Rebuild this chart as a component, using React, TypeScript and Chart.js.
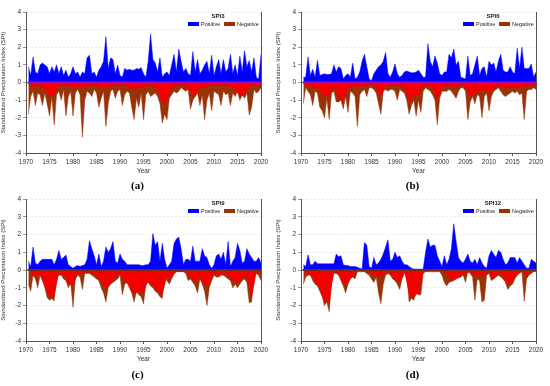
import React, { useEffect, useRef } from "react";
import { Chart, registerables } from "chart.js";
Chart.register(...registerables);

// Half-year sample grid: 1970.5, 1971.0, ... 2020.0 (100 samples)
const HALF_START = 1970.5;
// Yearly grid for the smoother red envelope: 1971 ... 2020 (50 samples)
const YEAR_START = 1971;

const YEAR_TICKS = [1970, 1975, 1980, 1985, 1990, 1995, 2000, 2005, 2010, 2015, 2020];
const SPI_TICKS = [-4, -3, -2, -1, 0, 1, 2, 3, 4];
const LEGEND_LABELS = ["Positive", "Negative"];

// ---------- SPI3 ----------
const SPI3_POS = [
  0.9, 0.4, 1.45, 0.6, 0.5, 1.0, 1.1, 1.0, 0.9, 0.5,
  0.9, 0.6, 1.0, 0.5, 0.9, 0.4, 0.7, 0.3, 0.5, 0.9,
  0.5, 0.6, 0.3, 0.6, 0.5, 1.4, 1.55, 0.5, 0.6, 0.3,
  0.7, 0.9, 1.2, 2.6, 0.8, 1.4, 1.3, 0.5, 1.0, 0.4,
  0.3, 0.8, 0.7, 0.75, 0.7, 0.7, 0.8, 0.75, 0.85, 0.5,
  0.3, 1.2, 2.75, 1.3, 1.1, 0.6, 1.4, 0.3, 0.5, 0.6,
  0.4, 1.0, 1.6, 0.6, 1.9, 1.2, 0.6, 0.8, 0.5, 0.4,
  1.75, 0.6, 1.3, 0.5, 0.7, 1.0, 1.2, 0.5, 1.55, 0.4,
  0.9, 1.3, 0.5, 1.3, 0.6, 0.8, 1.6, 0.5, 1.0, 0.4,
  1.5, 0.6, 1.8, 0.9, 1.25, 0.6, 1.4, 0.3, 0.2, 1.6,
];
const SPI3_NEG = [
  -1.8, -0.8, -0.5, -1.3, -0.6, -0.7, -1.3, -0.6, -1.2, -1.9,
  -0.8, -2.4, -0.7, -0.5, -1.0, -0.4, -1.9, -0.8, -0.5, -1.9,
  -0.6, -0.4, -0.7, -3.1, -1.0, -0.5, -0.6, -0.8, -0.4, -0.6,
  -1.4, -0.9, -0.5, -2.5, -1.2, -0.5, -0.4, -0.9, -0.5, -0.4,
  -1.3, -0.7, -0.5, -0.6, -1.4, -2.1, -0.9, -1.4, -0.6, -2.1,
  -0.7, -0.5, -0.8, -0.7, -0.6, -0.8, -1.2, -2.3, -1.8, -2.1,
  -0.9, -0.7, -0.5, -0.6, -0.5, -0.3, -0.4, -0.5, -0.4, -1.5,
  -1.0, -0.8, -0.6, -1.3, -0.7, -2.1, -1.0, -0.6, -1.6, -0.5,
  -0.6, -0.7, -1.3, -0.5, -0.7, -0.6, -1.3, -0.6, -0.8, -0.5,
  -1.0, -0.7, -0.9, -0.6, -1.85, -1.4, -0.4, -0.6, -0.5, -0.3,
];
const SPI3_RED = [
  -0.3, -0.2, -0.2, -0.4, -0.8, -0.7, -0.2, -0.2, -0.2, -0.3,
  -0.2, -0.3, -0.2, -0.2, -0.2, -0.3, -0.3, -0.2, -0.2, -0.2,
  -0.2, -0.3, -0.4, -0.3, -0.3, -0.2, -0.2, -0.4, -1.2, -1.0,
  -0.3, -0.2, -0.2, -0.2, -0.5, -0.8, -0.3, -0.3, -0.2, -0.2,
  -0.2, -0.2, -0.2, -0.3, -0.6, -0.8, -0.4, -0.2, -0.2, -0.1,
];

// ---------- SPI6 ----------
const SPI6_POS = [
  0.3, 0.3, 1.45, 0.4, 0.75, 0.3, 1.25, 0.4, 0.45, 0.5,
  0.45, 0.45, 0.5, 1.0, 0.6, 0.9, 0.8, 0.2, 0.4, 0.5,
  0.3, 1.1, 0.2, 0.3, 0.6, 1.2, 1.6, 0.9, 0.2, 0.1,
  0.5, 0.7, 0.9, 1.0, 1.2, 1.7, 0.5, 0.3, 0.6, 1.05,
  0.5, 0.3, 0.4, 0.6, 0.65, 0.6, 0.55, 0.55, 0.6, 0.7,
  0.5, 0.3, 0.3, 2.2, 1.2, 0.9, 1.5, 1.1, 0.5, 0.4,
  0.6, 0.6, 1.6, 1.4, 1.9, 1.0, 1.2, 0.3, 0.25, 0.2,
  1.5, 0.4, 0.5, 1.0, 1.5, 0.4, 0.8, 0.9, 0.3, 1.2,
  1.0, 1.1, 0.6, 1.2, 1.6, 0.7, 0.6, 0.6, 0.9, 0.6,
  0.5, 1.95, 0.8, 2.0, 0.8, 0.8, 0.8, 1.05, 0.3, 0.6,
];
const SPI6_NEG = [
  -1.2, -0.3, -0.5, -0.7, -1.3, -0.5, -0.6, -1.4, -1.6, -2.0,
  -0.9, -2.1, -0.6, -0.5, -1.1, -1.1, -1.0, -1.5, -0.8, -1.7,
  -0.5, -0.6, -0.8, -2.5, -0.7, -0.5, -0.4, -0.8, -0.3, -0.3,
  -0.4, -0.6, -1.2, -1.8, -0.5, -0.4, -0.5, -0.4, -0.4, -0.5,
  -1.0, -0.4, -0.5, -0.6, -1.0, -1.8, -1.3, -1.0, -1.9, -1.0,
  -1.7, -0.5, -0.3, -0.4, -0.5, -0.7, -1.0, -2.4, -0.9, -0.5,
  -0.5, -0.5, -0.4, -0.5, -0.7, -0.9, -0.5, -0.3, -0.3, -0.5,
  -2.1, -1.1, -0.8, -1.2, -0.7, -0.8, -2.0, -0.8, -0.6, -1.6,
  -0.8, -0.5, -0.4, -0.3, -0.5, -0.7, -0.8, -0.7, -0.6, -0.5,
  -0.6, -0.5, -0.7, -0.6, -2.1, -0.5, -0.4, -0.4, -0.3, -0.4,
];
const SPI6_RED = [
  -0.3, -0.2, -0.3, -0.5, -0.8, -0.8, -0.2, -1.0, -0.9, -0.4,
  -0.2, -0.3, -0.2, -0.2, -0.1, -0.3, -0.8, -0.2, -0.2, -0.2,
  -0.2, -0.3, -1.1, -0.8, -0.7, -0.2, -0.2, -0.3, -1.0, -0.3,
  -0.2, -0.2, -0.3, -0.1, -0.3, -0.8, -0.6, -0.5, -0.4, -0.6,
  -0.3, -0.2, -0.3, -0.3, -0.3, -0.3, -0.3, -0.2, -0.2, -0.1,
];

// ---------- SPI9 ----------
const SPI9_POS = [
  0.5, 0.2, 1.3, 0.4, 0.3, 0.5, 0.6, 0.6, 0.6, 0.6,
  0.6, 0.3, 0.6, 1.1, 0.6, 0.7, 0.85, 0.3, 0.2, 0.1,
  0.2, 0.25, 0.2, 0.25, 0.3, 0.6, 1.65, 1.2, 0.8, 0.3,
  0.9, 0.2, 0.5, 1.3, 1.0, 1.2, 1.6, 0.5, 0.4, 0.9,
  0.6, 0.5, 0.3, 0.3, 0.3, 0.3, 0.3, 0.3, 0.25, 0.25,
  0.3, 0.3, 0.5, 2.05, 1.4, 1.6, 0.5, 1.5, 0.6, 0.1,
  0.3, 0.5, 1.5, 1.75, 1.85, 1.2, 0.3, 0.6, 0.6, 0.5,
  1.35, 0.5, 0.5, 0.5, 1.2, 0.8, 0.7, 0.3, 0.1, 0.3,
  0.8, 0.9, 0.6, 1.0, 0.3, 1.6, 0.2, 0.5, 0.7, 1.5,
  1.1, 0.4, 0.5, 1.2, 0.9, 0.7, 0.5, 0.5, 0.7, 0.4,
];
const SPI9_NEG = [
  -0.8, -1.2, -0.3, -0.5, -1.0, -0.3, -0.6, -1.0, -1.55, -1.7,
  -1.6, -1.75, -0.4, -0.3, -0.3, -0.5, -0.6, -1.0, -0.7, -2.1,
  -0.5, -0.3, -0.4, -1.1, -0.2, -0.2, -0.2, -0.3, -0.4, -0.5,
  -0.6, -1.0, -1.3, -1.8, -1.0, -0.8, -0.7, -0.6, -0.5, -0.3,
  -1.4, -0.8, -0.7, -1.0, -1.3, -1.8, -1.2, -1.4, -1.5, -1.9,
  -0.8, -0.7, -0.9, -1.0, -1.2, -1.3, -1.5, -1.6, -0.2, -0.6,
  -0.8, -0.5, -0.2, -0.1, -0.1, -0.1, -0.1, -0.2, -0.6, -0.5,
  -0.7, -0.9, -1.3, -0.5, -0.8, -1.2, -2.0, -1.0, -0.6, -0.3,
  -0.4, -0.4, -0.3, -0.3, -0.4, -0.5, -0.6, -1.0, -0.8, -1.0,
  -0.8, -0.6, -0.5, -0.7, -1.85, -1.8, -0.3, -0.2, -0.3, -0.6,
];
const SPI9_RED = [
  -0.4, -0.3, -0.3, -0.9, -1.5, -1.5, -0.2, -0.3, -0.8, -0.9,
  -0.2, -0.2, -0.1, -0.2, -0.3, -0.7, -1.0, -0.7, -0.4, -0.2,
  -0.6, -0.9, -1.4, -1.2, -1.3, -0.6, -0.9, -1.2, -1.4, -0.4,
  -0.4, -0.1, -0.1, -0.1, -0.4, -0.7, -0.4, -0.9, -0.8, -0.2,
  -0.3, -0.2, -0.3, -0.6, -0.7, -0.4, -0.4, -1.6, -0.2, -0.1,
];

// ---------- SPI12 ----------
const SPI12_POS = [
  0.3, 0.2, 0.85, 0.3, 0.3, 0.5, 0.35, 0.35, 0.35, 0.35,
  0.35, 0.35, 0.35, 0.35, 0.9, 0.75, 0.8, 0.3, 0.25, 0.25,
  0.2, 0.2, 0.2, 0.15, 0.1, 0.05, 1.55, 1.4, 0.2, 0.1,
  0.7, 0.3, 0.4, 0.6, 0.9, 1.3, 1.7, 0.5, 0.6, 1.0,
  0.7, 0.8, 0.5, 0.3, 0.3, 0.2, 0.1, 0.05, 0.05, 0.05,
  0.05, 0.05, 1.0, 1.75, 1.3, 1.4, 1.4, 0.8, 0.5, 0.2,
  0.8, 0.3, 0.6, 1.2, 2.6, 1.6, 0.7, 0.5, 0.4, 0.6,
  0.9, 0.5, 0.4, 0.6, 0.3, 0.7, 0.4, 0.2, 0.1, 0.8,
  1.1, 0.9, 0.7, 1.1, 1.0, 0.6, 0.3, 0.4, 0.7, 0.7,
  0.7, 0.4, 0.7, 0.5, 0.3, 0.1, 0.1, 0.6, 0.5, 0.4,
];
const SPI12_NEG = [
  -0.8, -0.4, -0.3, -0.3, -0.6, -0.8, -0.9, -1.2, -1.5, -2.0,
  -1.8, -2.35, -0.8, -0.2, -0.2, -0.3, -0.6, -0.9, -1.3, -0.8,
  -0.5, -0.4, -0.5, -0.1, -0.1, -0.1, -0.1, -0.2, -0.3, -0.5,
  -0.7, -0.4, -1.3, -1.9, -0.8, -0.3, -0.2, -0.3, -0.5, -0.6,
  -0.8, -1.1, -0.5, -0.2, -0.1, -1.8, -1.6, -1.7, -1.3, -1.4,
  -1.4, -0.2, -0.1, -0.1, -0.1, -0.1, -0.1, -0.1, -0.1, -0.3,
  -0.7, -0.9, -0.7, -0.65, -0.6, -0.5, -0.45, -0.4, -0.3, -0.7,
  -0.1, -0.2, -0.4, -1.7, -0.5, -0.6, -1.8, -1.7, -0.3, -0.2,
  -0.6, -0.5, -0.4, -0.3, -0.4, -0.5, -0.7, -1.1, -0.9, -0.8,
  -0.5, -0.3, -0.2, -0.1, -1.75, -0.5, -0.3, -0.2, -0.1, -0.1,
];
const SPI12_RED = [
  -0.3, -0.2, -0.6, -1.1, -1.8, -1.8, -0.1, -0.2, -0.8, -0.7,
  -0.3, -0.05, -0.05, -0.1, -0.2, -0.3, -0.4, -0.1, -0.2, -0.5,
  -0.7, -0.1, -1.4, -1.5, -1.3, -0.1, -0.05, -0.05, -0.05, -0.1,
  -0.2, -0.6, -0.5, -0.3, -0.2, -0.1, -0.3, -0.3, -0.3, -0.1,
  -0.5, -0.2, -0.3, -0.8, -0.6, -0.2, -0.1, -0.3, -0.1, -0.05,
];

const BLUE = "#0000ff";
const BROWN = "#9a3208";
const RED = "#f20000";

type Panel = {
  title: string;
  caption: string;
  pos: number[];
  neg: number[];
  red: number[];
  zeroColor: string;
  left: number;
  top: number;
  padTop: number;
  padBottom: number;
  captionY: number;
};

const PANELS: Panel[] = [
  { title: "SPI3", caption: "(a)", pos: SPI3_POS, neg: SPI3_NEG, red: SPI3_RED, zeroColor: "#b000c0", left: 0, top: 0, padTop: 12, padBottom: 18, captionY: 179 },
  { title: "SPI6", caption: "(b)", pos: SPI6_POS, neg: SPI6_NEG, red: SPI6_RED, zeroColor: "#b000c0", left: 275, top: 0, padTop: 12, padBottom: 18, captionY: 179 },
  { title: "SPI9", caption: "(c)", pos: SPI9_POS, neg: SPI9_NEG, red: SPI9_RED, zeroColor: "#7a2a08", left: 0, top: 193, padTop: 6, padBottom: 23, captionY: 175 },
  { title: "SPI12", caption: "(d)", pos: SPI12_POS, neg: SPI12_NEG, red: SPI12_RED, zeroColor: "#7a2a08", left: 275, top: 193, padTop: 6, padBottom: 23, captionY: 175 },
];

const halfPts = (vals: number[]) => vals.map((v, i) => ({ x: HALF_START + i * 0.5, y: v }));
const yearPts = (vals: number[]) => vals.map((v, i) => ({ x: YEAR_START + i, y: v }));

const FONT_FAMILY = "Arial, 'Liberation Sans', sans-serif";

// right frame line + legend in top-right corner of the plot
const decor = {
  id: "decor",
  afterDatasetsDraw(chart: any, _args: any, opts: any) {
    const { ctx, chartArea } = chart;
    ctx.save();
    ctx.strokeStyle = "#555";
    ctx.lineWidth = 1;
    ctx.beginPath();
    ctx.moveTo(chartArea.right + 0.5, chartArea.top);
    ctx.lineTo(chartArea.right + 0.5, chartArea.bottom);
    ctx.stroke();

    const r = chartArea.right;
    const t = chartArea.top;
    ctx.fillStyle = "#222";
    ctx.textAlign = "center";
    ctx.textBaseline = "middle";
    ctx.font = `bold 6px ${FONT_FAMILY}`;
    ctx.fillText(opts.title, r - 43, t + 4.5);
    ctx.font = `5.5px ${FONT_FAMILY}`;
    ctx.textAlign = "left";
    const rowY = t + 12;
    ctx.fillStyle = BLUE;
    ctx.fillRect(r - 73, rowY - 2, 11, 4);
    ctx.fillStyle = "#222";
    ctx.fillText(LEGEND_LABELS[0], r - 60, rowY);
    ctx.fillStyle = BROWN;
    ctx.fillRect(r - 37, rowY - 2, 11, 4);
    ctx.fillStyle = "#222";
    ctx.fillText(LEGEND_LABELS[1], r - 24, rowY);
    ctx.restore();
  },
};

function PanelChart({ p }: { p: Panel }) {
  const ref = useRef<HTMLCanvasElement | null>(null);
  useEffect(() => {
    if (!ref.current) return;
    const font = { family: FONT_FAMILY, size: 6.5 };
    const chart = new Chart(ref.current, {
      type: "line",
      data: {
        datasets: [
          {
            label: "zero",
            data: [{ x: 1970.3, y: 0 }, { x: 2020, y: 0 }],
            borderColor: p.zeroColor,
            borderWidth: 2,
            pointRadius: 0,
            fill: false,
            order: 0,
          },
          {
            label: "red",
            data: yearPts(p.red),
            borderColor: RED,
            backgroundColor: RED,
            borderWidth: 0,
            pointRadius: 0,
            fill: "origin",
            order: 1,
          },
          {
            label: LEGEND_LABELS[1],
            data: halfPts(p.neg),
            borderColor: BROWN,
            backgroundColor: BROWN,
            borderWidth: 0.5,
            pointRadius: 0,
            fill: "origin",
            order: 2,
          },
          {
            label: LEGEND_LABELS[0],
            data: halfPts(p.pos),
            borderColor: BLUE,
            backgroundColor: BLUE,
            borderWidth: 0.5,
            pointRadius: 0,
            fill: "origin",
            order: 3,
          },
        ],
      } as any,
      options: {
        responsive: false,
        animation: false,
        events: [],
        layout: { padding: { left: 0, right: 14, top: p.padTop, bottom: p.padBottom } },
        elements: { line: { tension: 0 } },
        scales: {
          x: {
            type: "linear",
            min: 1970,
            max: 2020,
            afterBuildTicks: (s: any) => { s.ticks = YEAR_TICKS.map((v) => ({ value: v })); },
            ticks: { callback: (v: any) => String(v), font, color: "#333", maxRotation: 0, autoSkip: false, padding: 2 },
            grid: { drawOnChartArea: false, tickLength: 3, tickColor: "#555" },
            border: { color: "#555", width: 1 },
            title: { display: true, text: "Year", font, color: "#333", padding: { top: 0, bottom: 0 } },
            afterFit: (s: any) => { s.height = 22; },
          },
          y: {
            min: -4,
            max: 4,
            afterBuildTicks: (s: any) => { s.ticks = SPI_TICKS.map((v) => ({ value: v })); },
            ticks: { font, color: "#333", padding: 2 },
            grid: { color: "#dcdcdc", tickLength: 3, tickColor: "#555", lineWidth: 0.6 },
            border: { color: "#555", width: 1, dash: [2, 2] },
            title: { display: true, text: "Standardized Precipitation Index (SPI)", font: { ...font, size: 6 }, color: "#333", padding: 0 },
            afterFit: (s: any) => { s.width = 26; },
          },
        },
        plugins: {
          tooltip: { enabled: false },
          legend: { display: false },
          decor: { title: p.title },
        },
      } as any,
      plugins: [decor],
    });
    return () => chart.destroy();
  }, [p]);
  return (
    <div style={{ position: "absolute", left: p.left, top: p.top, width: 275, height: 193 }}>
      <canvas ref={ref} width={275} height={193} style={{ display: "block", width: 275, height: 193 }} />
      <div
        style={{
          position: "absolute",
          left: 0,
          width: 275,
          top: p.captionY,
          textAlign: "center",
          fontFamily: "'Liberation Serif', 'Times New Roman', serif",
          fontWeight: "bold",
          fontSize: 11,
          lineHeight: "12px",
          color: "#000",
        }}
      >
        {p.caption}
      </div>
    </div>
  );
}

export default function App() {
  return (
    <div style={{ position: "fixed", left: 0, top: 0, width: 550, height: 386, background: "#fff", overflow: "hidden" }}>
      {PANELS.map((p) => (
        <PanelChart key={p.caption} p={p} />
      ))}
    </div>
  );
}
